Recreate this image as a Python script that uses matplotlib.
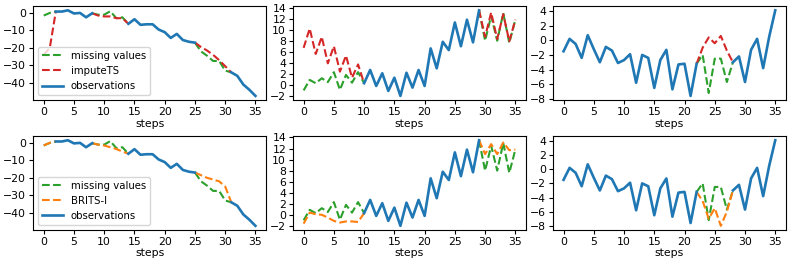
import numpy as np
import matplotlib
matplotlib.use('Agg')
import matplotlib.pyplot as plt
from matplotlib.ticker import MultipleLocator

nan = np.nan
steps = np.arange(36)

# series 1
truth_a = [-1.5, 0, 0.8, 0.8, 1.5, -0.3, 0, -2.5, -0.2, -1, -1, 1, -3, -2.5, -6.2, -3.6,
           -6.8, -6.5, -6.5, -9.5, -11, -14.3, -12, -15.5, -16.5, -17, -22, -24.5, -27.5,
           -27.5, -33, -34, -36, -41, -44, -47.5]
observed_a = [(2, 8), (14, 25), (31, 35)]
imputets_a = {0: [-24, -20, 0.8],
              8: [-0.2, -1.5, -2, -2, -3, -3, -6.2],
              25: [-17, -19.5, -21.5, -24, -27, -30.5, -34]}
brits_a = {0: [-1.5, 0, 0.8],
           8: [-0.2, -1, -1.5, -2.5, -3.5, -5, -6.2],
           25: [-17, -18.5, -20, -21, -22, -25, -34]}

# series 2
truth_b = [-1, 0.9, 0.3, 1.2, 0.5, 2.3, -0.9, 1.8, 0.4, 2.3, 0.3, 2.7, -0.2, 2.1, -1.1,
           1.3, -2, 2.2, -0.5, 2.7, -0.2, 6.6, 3, 7.8, 6.3, 11.3, 7, 11.8, 7.7, 13.5, 8,
           12.5, 8, 13, 7.6, 11.8]
observed_b = [(10, 29)]
imputets_b = {0: [6.7, 10.2, 5.6, 8.7, 3.9, 7, 2.4, 5.3, 1.3, 3.7, 0.3],
              29: [13.5, 8.7, 13.1, 8.3, 12.8, 7.9, 11.8]}
brits_b = {0: [-1.6, 0.4, 0.1, 0, -0.5, -1.1, -1.4, -1.2, -1.2, -1.3, 0.3],
           29: [13.5, 11, 12.8, 11, 13.1, 11.7, 11.8]}

# series 3
truth_c = [-1.5, 0.2, -0.5, -2.4, 0.7, -1.2, -3, -0.9, -1.4, -3.1, -2.7, -1.9, -5.8, -2,
           -2.4, -6.5, -2.7, -1.3, -6.7, -3.3, -3.2, -7.6, -3.2, -2, -7.2, -2.5, -2.5,
           -5.7, -3, -2.2, -5.7, -1.3, 0.2, -3.8, 0.5, 4.1]
observed_c = [(0, 22), (28, 35)]
imputets_c = {22: [-3.2, -1, 0.4, -0.4, 0.6, -1.4, -3]}
brits_c = {22: [-3.2, -4.5, -7, -5.5, -8, -6, -3]}

FS = 7.8
ystep = [10, 2, 2]


def split(truth, observed):
    truth = np.array(truth, dtype=float)
    obs = np.full(36, nan)
    mask = np.zeros(36, dtype=bool)
    for a, b in observed:
        obs[a:b + 1] = truth[a:b + 1]
        mask[a:b + 1] = True
    miss = np.full(36, nan)
    for i in range(36):
        near = [j for j in (i - 1, i, i + 1) if 0 <= j < 36]
        if any(not mask[j] for j in near):
            miss[i] = truth[i]
    return obs, miss


def segments(d):
    y = np.full(36, nan)
    for start, vals in d.items():
        y[start:start + len(vals)] = vals
    return y


fig, axes = plt.subplots(2, 3, figsize=(7.89, 2.63), dpi=100)
fig.subplots_adjust(left=0.042, right=0.996, top=0.977, bottom=0.125,
                    wspace=0.116, hspace=0.38)

rows = [('imputeTS', 'tab:red', [imputets_a, imputets_b, imputets_c]),
        ('BRITS-I', 'tab:orange', [brits_a, brits_b, brits_c])]
series = [(truth_a, observed_a), (truth_b, observed_b), (truth_c, observed_c)]

for r, (name, color, imps) in enumerate(rows):
    for c, (truth, observed) in enumerate(series):
        ax = axes[r, c]
        obs, miss = split(truth, observed)
        ax.plot(steps, miss, '--', color='tab:green', lw=1.5, label='missing values')
        ax.plot(steps, segments(imps[c]), '--', color=color, lw=1.5, label=name)
        ax.plot(steps, obs, color='tab:blue', lw=1.9, label='observations')
        ax.set_xlabel('steps', fontsize=FS, labelpad=1)
        ax.tick_params(labelsize=FS, length=3, pad=2)
        ax.set_xticks([0, 5, 10, 15, 20, 25, 30, 35])
        ax.yaxis.set_major_locator(MultipleLocator(ystep[c]))
        if c == 0:
            ax.legend(loc='lower left', fontsize=7.3)

fig.savefig('out.png')
